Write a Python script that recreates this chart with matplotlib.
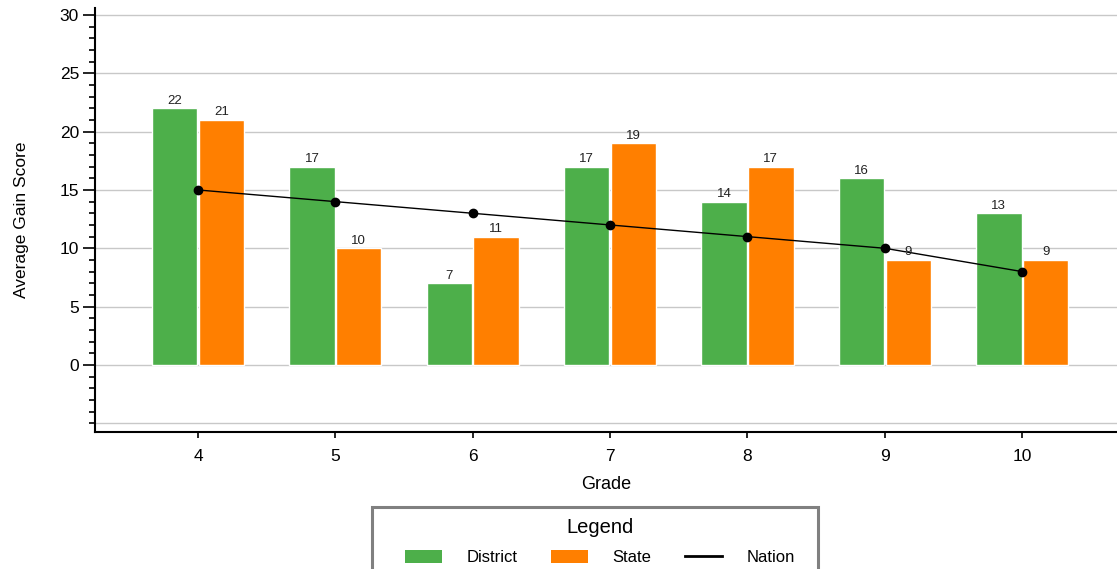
import matplotlib.pyplot as plt
import numpy as np
from matplotlib.lines import Line2D
from matplotlib.patches import Patch, Rectangle
from matplotlib.ticker import MultipleLocator

plt.rcParams.update({
    "font.family": ["Liberation Sans", "DejaVu Sans"],
    "font.size": 12,
})

grades = ["4", "5", "6", "7", "8", "9", "10"]
district = [22, 17, 7, 17, 14, 16, 13]
state = [21, 10, 11, 19, 17, 9, 9]
nation = [15, 14, 13, 12, 11, 10, 8]

GREEN = "#4daf4a"
ORANGE = "#ff7f00"

W, H = 1117, 569
fig = plt.figure(figsize=(W / 100, H / 100), dpi=100)
ax = fig.add_axes([95 / W, 1 - 432 / H, 1 - 95 / W, (432 - 8) / H])

x = np.arange(len(grades))
w = 0.33
b1 = ax.bar(x - w / 2 - 0.005, district, w, color=GREEN, edgecolor="white", linewidth=1, zorder=2)
b2 = ax.bar(x + w / 2 + 0.005, state, w, color=ORANGE, edgecolor="white", linewidth=1, zorder=2)
ax.plot(x, nation, color="black", linewidth=1, marker="o", markersize=6, zorder=3)

# value labels above each bar
for bars, vals in ((b1, district), (b2, state)):
    for bar, v in zip(bars, vals):
        ax.text(bar.get_x() + bar.get_width() / 2, v + 0.15, f"{v}",
                ha="center", va="bottom", fontsize=9.5, color="#222222", zorder=4)

ax.set_xlim(-0.75, 6.69)
ax.set_ylim(-5.75, 30.6)
ax.set_xticks(x)
ax.set_xticklabels(grades)
ax.set_yticks([0, 5, 10, 15, 20, 25, 30])
ax.yaxis.set_minor_locator(MultipleLocator(1))
ax.tick_params(axis="y", which="major", direction="out", length=8.5, width=1.2, labelsize=12.5, pad=3)
ax.tick_params(axis="y", which="minor", direction="out", length=4.3, width=1.2)
ax.tick_params(axis="x", which="major", direction="out", length=4, width=1.2, labelsize=12.5, pad=8)

for yv in [-5, 0, 5, 10, 15, 20, 25, 30]:
    ax.axhline(yv, color="#c8c8c8", linewidth=1, zorder=1)

ax.spines["top"].set_visible(False)
ax.spines["right"].set_visible(False)
ax.spines["left"].set_linewidth(1.5)
ax.spines["bottom"].set_linewidth(1.5)

ax.set_xlabel("Grade", fontsize=13, labelpad=9)
ax.set_ylabel("Average Gain Score", fontsize=12.5, labelpad=22)

# legend box (runs off the bottom edge like the original)
fig.add_artist(Rectangle((372 / W, -0.1), 446 / W, (H - 507) / H + 0.1,
                         transform=fig.transFigure, fill=False,
                         edgecolor="#808080", linewidth=2.2))

handles = [
    Patch(facecolor=GREEN, edgecolor="none"),
    Patch(facecolor=ORANGE, edgecolor="none"),
    Line2D([0], [0], color="black", linewidth=2),
]
leg = fig.legend(handles, ["District", "State", "Nation"], title="Legend",
                 loc="upper center", bbox_to_anchor=(600 / W, 1 - 518 / H),
                 ncol=3, fontsize=12, title_fontsize=14.5, frameon=False,
                 handlelength=2.2, handleheight=0.75, handletextpad=1.5,
                 columnspacing=2.0, borderpad=0, labelspacing=0.8, borderaxespad=0)

fig.savefig("out.png", dpi=100, facecolor="white")
